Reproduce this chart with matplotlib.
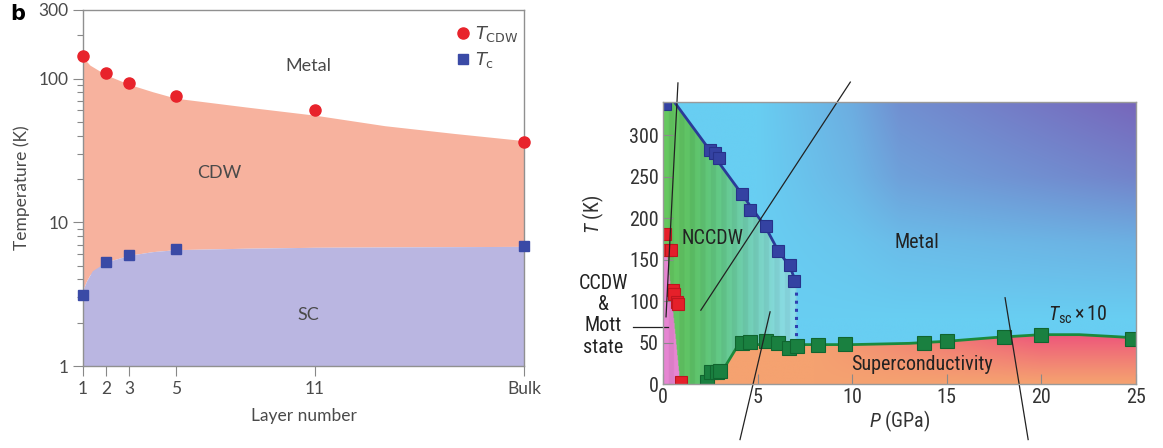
import numpy as np
import matplotlib
matplotlib.use('Agg')
import matplotlib.pyplot as plt
from matplotlib.lines import Line2D

## Panel b data (layer number vs temperature)
layer_x = [1, 2, 3, 5, 11, 20]
layer_ticklabels = ['1', '2', '3', '5', '11', 'Bulk']
t_cdw = [144, 109, 93, 76, 60, 36]
t_c = [3.1, 5.3, 5.9, 6.5, 6.8]
t_c_x = [1, 2, 3, 5, 20]

# phase boundaries (shaded areas)
cdw_edge_x = [1, 1.15, 1.3, 2, 3, 4, 5, 8, 11, 14, 17, 20]
cdw_edge_y = [144, 132, 124, 106, 91, 81, 73, 63.5, 55.6, 47, 41.5, 37]
sc_edge_x = [1, 1.15, 1.4, 2, 3, 4, 5, 8, 11, 20]
sc_edge_y = [3.4, 3.9, 4.6, 5.3, 5.9, 6.25, 6.45, 6.6, 6.7, 6.8]

## Pressure panel data
blue_p = [0.13, 2.5, 2.74, 2.96, 4.2, 4.6, 5.45, 6.1, 6.7, 6.95]
blue_t = [338, 282, 278, 272, 229, 210, 190, 160, 144, 124]
red_p = [0.13, 0.2, 0.43, 0.54, 0.58, 0.72, 0.79, 0.94]
red_t = [181, 162, 161, 113, 109, 99, 97, 2]
green_p = [2.3, 2.56, 2.83, 3.0, 4.2, 4.6, 5.45, 6.1, 6.66, 7.07, 8.2, 9.64, 13.8, 15.0, 18.0, 20.0, 24.8]
green_t = [2, 14, 15, 16, 49, 51, 52, 49, 44, 46, 47, 48, 50, 52, 57, 59, 54]

# boundaries
ncc_p = [0.6, 2.6, 4.2, 4.6, 5.4, 6.1, 6.7, 7.0]
ncc_t = [340, 278, 228, 215, 190, 160, 142, 124]
sc_p = [2.55, 3.2, 4.0, 5.0, 8.0, 10.0, 13.0, 15.0, 17.5, 20.0, 22.0, 24.0, 25.0]
sc_t = [12, 18, 48, 47.5, 47.5, 47.5, 49, 51.5, 56, 59.5, 59.5, 57, 55.5]
pink_p = [0.9, 0.2]
pink_t = [0, 162]

# stray leader lines copied from the source figure
stray_lines = [
    ([0.79, 0.16], [363, 81]),
    ([2.0, 9.9], [89, 364]),
    ([5.66, 4.07], [87, -67]),
    ([18.08, 19.3], [104, -67]),
    ([-1.59, 0.26], [69, 69]),
]

gray = '#4a4a4a'
fig = plt.figure(figsize=(11.63, 4.48), dpi=100)

## ---------------- left panel ----------------
lf = 'Lato'
ax1 = fig.add_axes([83/1163, 1-366/448, 441/1163, 356/448])
ax1.set_yscale('log')
ax1.fill_between(cdw_edge_x, np.interp(cdw_edge_x, sc_edge_x, sc_edge_y), cdw_edge_y,
                 color='#f7b29e', lw=0)
ax1.fill_between(sc_edge_x, 1, sc_edge_y, color='#bab6e1', lw=0)
ax1.plot(layer_x, t_cdw, 'o', color='#e8232b', ms=8, clip_on=False, zorder=5)
ax1.plot(t_c_x, t_c, 's', color='#3a4aa6', ms=7.5, clip_on=False, zorder=5)
ax1.set_xlim(1, 20)
ax1.set_ylim(1, 300)
ax1.set_xticks(layer_x)
ax1.set_xticklabels(layer_ticklabels, family=lf, fontsize=12.5, color=gray)
ax1.set_yticks([1, 10, 100, 300])
ax1.set_yticklabels(['1', '10', '100', '300'], family=lf, fontsize=12.5, color=gray)
ax1.tick_params(axis='both', which='major', length=7, color='#888888', width=0.8)
ax1.tick_params(axis='y', which='minor', length=4, color='#888888', width=0.8)
ax1.yaxis.set_minor_formatter(matplotlib.ticker.NullFormatter())
for s in ax1.spines.values():
    s.set_color('#909090')
    s.set_linewidth(1)
ax1.set_xlabel('Layer number', family=lf, fontsize=12.5, color=gray, labelpad=8)
ax1.set_ylabel('Temperature (K)', family=lf, fontsize=12.5, color=gray, labelpad=6)
ax1.text(10.7, 123, 'Metal', family=lf, fontsize=13, color=gray, ha='center', va='center')
ax1.text(6.85, 22, 'CDW', family=lf, fontsize=13, color=gray, ha='center', va='center')
ax1.text(10.7, 2.27, 'SC', family=lf, fontsize=13, color=gray, ha='center', va='center')
handles = [Line2D([], [], marker='o', ls='', color='#e8232b', ms=8),
           Line2D([], [], marker='s', ls='', color='#3a4aa6', ms=7)]
leg = ax1.legend(handles, [r'$T_{\rm CDW}$', r'$T_{\rm c}$'], loc='upper right',
                 bbox_to_anchor=(1.025, 1.005), frameon=False, handletextpad=0.1,
                 handlelength=1.2, labelspacing=0.3, prop={'family': lf, 'size': 13})
for t in leg.get_texts():
    t.set_color(gray)
fig.text(10/1163, 1-14/448, 'b', fontsize=15, fontweight='bold', va='center', family='DejaVu Sans')

## ---------------- right panel ----------------
rf = ['Liberation Sans Narrow', 'Roboto Condensed', 'DejaVu Sans Condensed', 'Liberation Sans']
plt.rcParams['mathtext.fontset'] = 'custom'
plt.rcParams['mathtext.rm'] = 'Roboto Condensed'
plt.rcParams['mathtext.it'] = 'Roboto Condensed:italic'

ax2 = fig.add_axes([663/1163, 1-384/448, 473/1163, 282/448])
P, T = np.meshgrid(np.linspace(0, 25, 900), np.linspace(0, 340, 500))

# NCCDW green, horizontal gradient with banding
g_pos = [0.0, 1.5, 3.0, 4.5, 6.0, 7.2]
g_r = [100, 92, 96, 110, 130, 140]
g_g = [196, 190, 196, 202, 212, 216]
g_b = [92, 100, 132, 176, 214, 232]
band = np.floor(P / 0.28)
shade = 1 + 0.025 * np.where(band % 2 == 0, 1, -1)
img = np.stack([np.interp(P, g_pos, g_r), np.interp(P, g_pos, g_g),
                np.interp(P, g_pos, g_b)], axis=-1) / 255 * shade[..., None]

# metal: light blue, turning purple towards the top right
s_p = np.interp(P, [5, 10, 12.5, 25], [0, 0.32, 0.6, 1.0])
w_t = np.interp(T, [80, 170, 250, 340], [0, 0.28, 0.72, 1.0])
tm = (s_p * w_t)[..., None]
metal = (1 - tm) * np.array([104, 206, 242]) / 255 + tm * np.array([119, 102, 187]) / 255
pb = np.where(T >= 124, np.interp(T, ncc_t[::-1], ncc_p[::-1]), 7.05)
m_metal = P > pb
img[m_metal] = metal[m_metal]

# pink CCDW region
pink_edge = np.interp(T, pink_t, pink_p)
m_pink = (T <= 162) & (P < pink_edge)
pink = np.array([225, 130, 205]) / 255 * shade[..., None]
img[m_pink] = pink[m_pink]

# superconducting region
m_sc = (P >= 2.55) & (T < np.interp(P, sc_p, sc_t))
rr = (np.clip((P - 8) / 12, 0, 1) * np.clip(T / 55, 0, 1) ** 1.1)[..., None]
sc = (1 - rr) * np.array([245, 162, 112]) / 255 + rr * np.array([238, 92, 122]) / 255
img[m_sc] = sc[m_sc]

ax2.imshow(np.clip(img, 0, 1), extent=(0, 25, 0, 340), origin='lower', aspect='auto',
           interpolation='bilinear')

ax2.plot(ncc_p, ncc_t, color='#2b3a98', lw=2)
ax2.plot([7.05, 7.05], [120, 58], color='#2f3fb0', lw=2.2, ls=':')
ax2.plot(sc_p, sc_t, color='#1b8a3c', lw=2)
ax2.plot(blue_p, blue_t, 's', ms=9, mfc='#3442a2', mec='#27328a', mew=0.8)
ax2.plot(red_p, red_t, 's', ms=9, mfc='#e5202a', mec='#c0151f', mew=0.8)
ax2.plot(green_p, green_t, 's', ms=9.5, mfc='#1a8040', mec='#10652f', mew=0.8)

for xs, ys in stray_lines:
    ax2.plot(xs, ys, color='#222222', lw=0.9, clip_on=False)

ax2.set_xlim(0, 25)
ax2.set_ylim(0, 340)
ax2.set_xticks([0, 5, 10, 15, 20, 25])
ax2.set_yticks([0, 50, 100, 150, 200, 250, 300])
for lab in ax2.get_xticklabels() + ax2.get_yticklabels():
    lab.set_family(rf)
    lab.set_fontsize(14.5)
    lab.set_color('#333333')
ax2.tick_params(direction='in', length=7, color='#8a8a8a', pad=3)
for s in ax2.spines.values():
    s.set_color('#9a9a9a')
    s.set_linewidth(1)
ax2.set_xlabel(r'$P$ (GPa)', family=rf, fontsize=14.5, color='#333333', labelpad=1)
ax2.set_ylabel(r'$T$ (K)', family=rf, fontsize=14.5, color='#333333', labelpad=2)
ax2.yaxis.set_label_coords(-0.12, 0.6)

ax2.text(2.6, 176, 'NCCDW', family=rf, fontsize=14.5, color='#222222', ha='center', va='center')
ax2.text(13.4, 171, 'Metal', family=rf, fontsize=14.5, color='#222222', ha='center', va='center')
ax2.text(13.7, 23, 'Superconductivity', family=rf, fontsize=14.5, color='#222222',
         ha='center', va='center')
ax2.text(21.9, 83, r'$T_{\rm sc}\times10$', family=rf, fontsize=14.5, color='#222222',
         ha='center', va='center')
ax2.text(-3.17, 83, 'CCDW\n&\nMott\nstate', family=rf, fontsize=14.5, color='#222222',
         ha='center', va='center', linespacing=1.15)

fig.savefig('out.png', dpi=100)
